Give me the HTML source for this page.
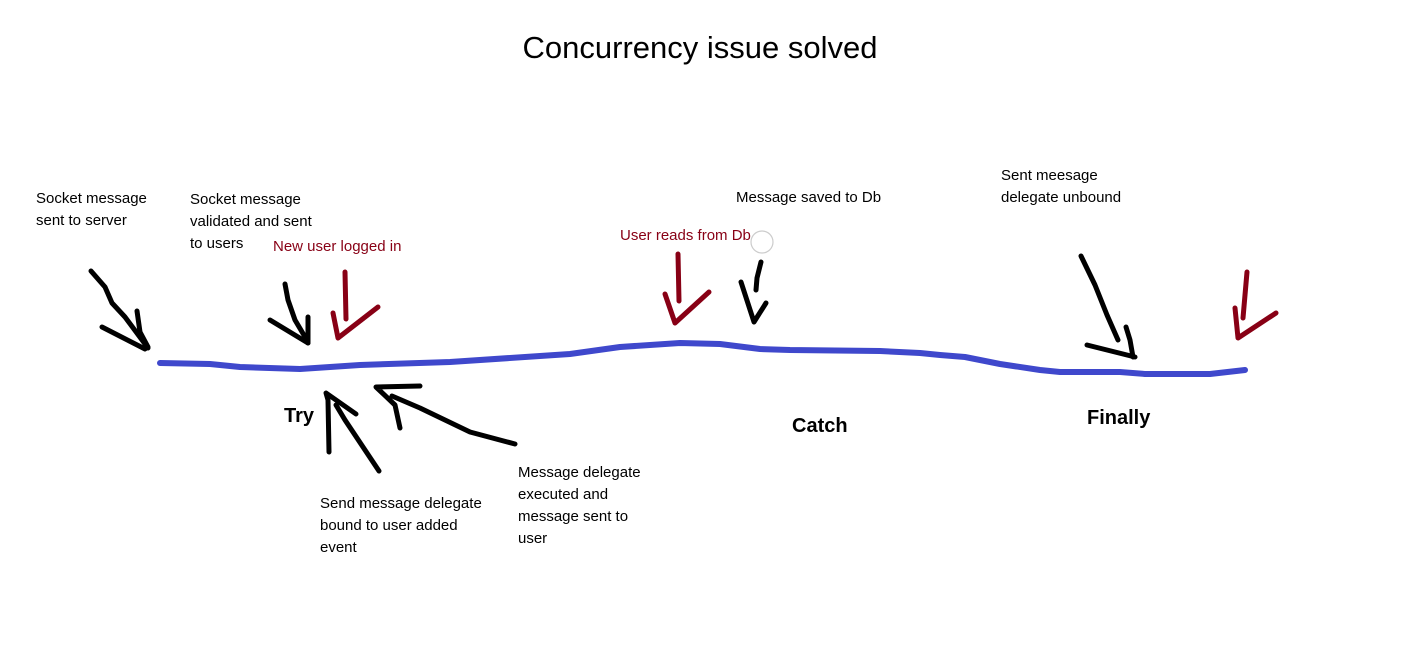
<!DOCTYPE html>
<html><head><style>
body{margin:0;width:1416px;height:672px;background:#fff;overflow:hidden;position:relative;font-family:"Liberation Sans",sans-serif}
.t{position:absolute;font-size:15px;line-height:22px;color:#000;white-space:nowrap}
.r{color:#880015}
.b{position:absolute;font-size:20px;font-weight:bold}
</style></head><body>
<div style="position:absolute;left:0;width:1400px;top:30px;text-align:center;font-size:31px">Concurrency issue solved</div>
<div class="t" style="left:36px;top:188px">Socket message<br>sent to server</div>
<div class="t" style="left:190px;top:189px">Socket message<br>validated and sent<br>to users</div>
<div class="t r" style="left:273px;top:236px">New user logged in</div>
<div class="t r" style="left:620px;top:225px">User reads from Db</div>
<div class="t" style="left:736px;top:187px">Message saved to Db</div>
<div class="t" style="left:1001px;top:165px">Sent meesage<br>delegate unbound</div>
<div class="b" style="left:284px;top:405px">Try</div>
<div class="b" style="left:792px;top:415px">Catch</div>
<div class="b" style="left:1087px;top:407px">Finally</div>
<div class="t" style="left:320px;top:493px">Send message delegate<br>bound to user added<br>event</div>
<div class="t" style="left:518px;top:462px">Message delegate<br>executed and<br>message sent to<br>user</div>
<svg width="1416" height="672" style="position:absolute;left:0;top:0" fill="none" stroke-linecap="round" stroke-linejoin="round">
<circle cx="762" cy="242" r="11" stroke="#ccc" stroke-width="1.2"/>
<polyline stroke="#3f48cc" stroke-width="6" points="160,363 210,364 240,367 300,369 360,365 450,362 570,354 620,347 680,343 720,344 760,349 790,350 880,351 920,353 940,355 965,357 1000,364 1040,370 1060,372 1120,372 1145,374 1210,374 1245,370"/>
<g stroke="#000" stroke-width="5">
<polyline points="91,271 105,287 112,303 125,317 148,348"/>
<polyline points="102,327 145,349"/><polyline points="137,311 140,332 148,347"/>
<polyline points="285,284 288,300 295,320 308,342"/>
<polyline points="270,320 308,343"/><polyline points="308,317 308,343"/>
<polyline points="329,452 328,400 326,393 356,414"/>
<polyline points="379,471 365,450 345,420 336,405"/>
<polyline points="420,386 376,387 395,405 400,428"/>
<polyline points="392,396 420,408 470,432 515,444"/>
<polyline points="761,262 757,278 756,290"/>
<polyline points="741,282 754,322 766,303"/>
<polyline points="1081,256 1095,285 1107,315 1118,340"/>
<polyline points="1087,345 1135,357"/><polyline points="1126,327 1130,340 1133,357"/>
</g>
<g stroke="#880015" stroke-width="5">
<polyline points="345,272 346,319"/><polyline points="333,313 338,338 378,307"/>
<polyline points="678,254 679,301"/><polyline points="665,294 675,323 709,292"/>
<polyline points="1247,272 1243,318"/><polyline points="1235,308 1238,338 1276,313"/>
</g>
</svg>
</body></html>
